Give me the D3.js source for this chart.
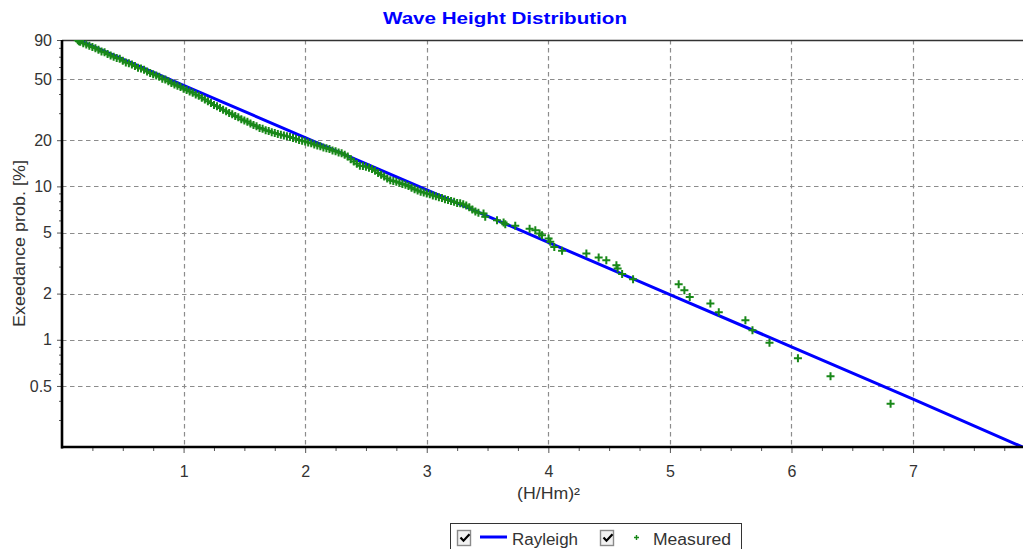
<!DOCTYPE html>
<html>
<head>
<meta charset="utf-8">
<script src="https://cdn.jsdelivr.net/npm/d3@7"></script>
<style>
  body { margin: 0; background: #fff; }
  svg { display: block; }
  text { font-family: "Liberation Sans", Arial, sans-serif; }
</style>
</head>
<body>
<svg id="chart" width="1023" height="549"></svg>
<script>
// Theoretical Rayleigh exceedance curve, (H/Hm)^2 vs exceedance probability [%]
const rayleighX = [0.134, 1, 2, 3, 4, 5, 6, 7, 7.9];
const rayleighP = [90, 45.59, 20.79, 9.48, 4.32, 1.97, 0.90, 0.41, 0.20];

// Measured wave record, sorted by (H/Hm)^2
const measuredX = [
  0.13, 0.14, 0.15, 0.175, 0.2, 0.225, 0.25, 0.275, 0.3, 0.325, 0.35, 0.375,
  0.4, 0.425, 0.45, 0.475, 0.5, 0.525, 0.55, 0.575, 0.6, 0.625, 0.65, 0.675,
  0.7, 0.725, 0.75, 0.775, 0.8, 0.825, 0.85, 0.875, 0.9, 0.925, 0.95, 0.975,
  1.0, 1.025, 1.05, 1.075, 1.1, 1.125, 1.15, 1.175, 1.2, 1.225, 1.25, 1.275,
  1.3, 1.325, 1.35, 1.375, 1.4, 1.425, 1.45, 1.475, 1.5, 1.525, 1.55, 1.575,
  1.6, 1.625, 1.65, 1.675, 1.7, 1.725, 1.75, 1.775, 1.8, 1.825, 1.85, 1.875,
  1.9, 1.925, 1.95, 1.975, 2.0, 2.025, 2.05, 2.075, 2.1, 2.125, 2.15, 2.175,
  2.2, 2.225, 2.25, 2.275, 2.3, 2.325, 2.35, 2.375, 2.4, 2.425, 2.45, 2.475,
  2.5, 2.525, 2.55, 2.575, 2.6, 2.625, 2.65, 2.675, 2.7, 2.725, 2.75, 2.775,
  2.8, 2.825, 2.85, 2.875, 2.9, 2.925, 2.95, 2.975, 3.0, 3.025, 3.05, 3.075,
  3.1, 3.125, 3.15, 3.175, 3.2, 3.225, 3.25, 3.275, 3.3, 3.325, 3.35, 3.375,
  3.4, 3.425,
  3.467, 3.481, 3.578, 3.632, 3.646, 3.728, 3.846, 3.893, 3.928, 3.948,
  4.002, 4.016, 4.049, 4.113, 4.313, 4.414, 4.477, 4.56, 4.57, 4.607, 4.697,
  5.072, 5.119, 5.163, 5.333, 5.402, 5.621, 5.679, 5.819, 6.053, 6.321, 6.815
];
const measuredP = [
  89.61, 88.25, 87.57, 85.86, 84.19, 82.55, 80.94, 79.37, 77.83, 75.75, 74.84, 72.83,
  71.41, 70.02, 68.67, 67.83, 66.02, 64.25, 63.47, 62.24, 61.03, 59.40, 58.68, 57.54,
  55.99, 54.91, 53.84, 52.79, 51.76, 50.38, 49.77, 48.44, 47.14, 46.23, 45.32, 44.44,
  43.25, 42.42, 41.59, 40.78, 39.69, 38.92, 37.87, 36.86, 35.87, 34.91, 33.97, 33.31,
  32.42, 31.56, 30.94, 30.11, 29.53, 28.74, 28.18, 27.42, 26.89, 26.36, 25.66, 25.16,
  24.67, 24.02, 23.72, 23.26, 22.98, 22.54, 22.26, 21.99, 21.73, 21.47, 21.21, 20.95,
  20.70, 20.45, 20.06, 19.81, 19.58, 19.34, 19.10, 18.74, 18.50, 18.28, 17.92, 17.72,
  17.50, 17.16, 16.95, 16.62, 16.42, 16.10, 15.67, 15.02, 14.51, 14.02, 13.65, 13.58,
  13.42, 13.25, 13.00, 12.65, 12.22, 11.90, 11.58, 11.27, 10.97, 10.84, 10.70, 10.57,
  10.37, 10.24, 10.04, 9.78, 9.58, 9.39, 9.22, 9.11, 8.99, 8.89, 8.72, 8.61,
  8.50, 8.40, 8.24, 8.14, 8.04, 7.94, 7.79, 7.76, 7.66, 7.51, 7.31, 7.06,
  6.87, 6.74,
  6.66, 6.33, 6.02, 5.82, 5.67, 5.53, 5.29, 5.18, 4.93, 4.81,
  4.58, 4.35, 4.03, 3.80, 3.65, 3.44, 3.30, 3.06, 2.92, 2.68, 2.48,
  2.30, 2.105, 1.903, 1.723, 1.512, 1.341, 1.154, 0.956, 0.758, 0.578, 0.383
];

const xTicks = [1, 2, 3, 4, 5, 6, 7];
const yTicks = [90, 50, 20, 10, 5, 2, 1, 0.5];
const yMinorTicks = [0.3, 0.4, 0.6, 0.7, 0.8, 0.9, 3, 4, 6, 7, 8, 9, 30, 40, 60, 70, 80];

const labelColor = "#333";
const gridColor = "#8c8c8c";
const lineColor = "#0000ff";
const markColor = "#188818";

const plot = { left: 62, right: 1022.5, top: 40, bottom: 447 };

const x = d3.scaleLinear().domain([0, 7.9]).range([plot.left, plot.right]);
const y = d3.scaleLog().domain([0.2, 90]).range([plot.bottom, plot.top]);

const svg = d3.select("#chart");

svg.append("defs").append("clipPath").attr("id", "plotClip")
  .append("rect")
  .attr("x", plot.left).attr("y", plot.top)
  .attr("width", 1023 - plot.left).attr("height", plot.bottom - plot.top);

// Grid
const grid = svg.append("g")
  .attr("stroke", gridColor).attr("stroke-width", 1.2)
  .attr("stroke-dasharray", "4.5,3.5").attr("fill", "none");
grid.selectAll("line.v").data(xTicks).join("line").attr("class", "v")
  .attr("x1", d => Math.round(x(d)) + 0.5).attr("x2", d => Math.round(x(d)) + 0.5)
  .attr("y1", plot.top).attr("y2", plot.bottom);
grid.selectAll("line.h").data(yTicks.filter(d => d < 90)).join("line").attr("class", "h")
  .attr("y1", d => Math.round(y(d)) + 0.5).attr("y2", d => Math.round(y(d)) + 0.5)
  .attr("x1", plot.left).attr("x2", 1023);

// Top frame line
svg.append("line")
  .attr("x1", plot.left).attr("x2", 1023)
  .attr("y1", plot.top + 0.5).attr("y2", plot.top + 0.5)
  .attr("stroke", "#333").attr("stroke-width", 1.3);

const plotArea = svg.append("g").attr("clip-path", "url(#plotClip)");

// Rayleigh curve
const rayleigh = rayleighX.map((d, i) => [d, rayleighP[i]]);
plotArea.append("path")
  .datum(rayleigh)
  .attr("fill", "none")
  .attr("stroke", lineColor)
  .attr("stroke-width", 3)
  .attr("d", d3.line().x(d => x(d[0])).y(d => y(d[1])));

// Measured points as crosses
const measured = measuredX.map((d, i) => [d, measuredP[i]]);
const arm = 4;
plotArea.append("g")
  .attr("stroke", markColor).attr("stroke-width", 2).attr("fill", "none")
  .selectAll("path").data(measured).join("path")
  .attr("d", d => {
    const cx = x(d[0]), cy = y(d[1]);
    return `M${cx - arm},${cy}h${2 * arm}M${cx},${cy - arm}v${2 * arm}`;
  });

// X axis ticks and labels
const xAxis = svg.append("g").attr("transform", `translate(0,${plot.bottom})`)
  .call(d3.axisBottom(x).tickValues(xTicks).tickSize(6).tickSizeOuter(0).tickPadding(13)
    .tickFormat(d3.format("d")));
const xMinor = svg.append("g").attr("transform", `translate(0,${plot.bottom})`)
  .call(d3.axisBottom(x)
    .tickValues(d3.range(0.25, 7.9, 0.25).filter(d => d % 1 !== 0))
    .tickSize(4).tickSizeOuter(0).tickFormat(""));

// Y axis ticks and labels
const yAxis = svg.append("g").attr("transform", `translate(${plot.left},0)`)
  .call(d3.axisLeft(y).tickValues(yTicks).tickSize(5).tickSizeOuter(0).tickPadding(5)
    .tickFormat(d => String(d)));
const yMinor = svg.append("g").attr("transform", `translate(${plot.left},0)`)
  .call(d3.axisLeft(y).tickValues(yMinorTicks).tickSize(3).tickSizeOuter(0).tickFormat(""));

[xAxis, xMinor, yAxis, yMinor].forEach(g => {
  g.select(".domain").remove();
  g.selectAll(".tick line").attr("stroke", "#555").attr("stroke-width", 1);
  g.selectAll(".tick text")
    .attr("fill", labelColor)
    .style("font-family", '"Liberation Sans", Arial, sans-serif')
    .style("font-size", "16px");
});

// Thick axis lines
svg.append("line")
  .attr("x1", plot.left).attr("x2", plot.left)
  .attr("y1", plot.top).attr("y2", plot.bottom + 1.5)
  .attr("stroke", "#000").attr("stroke-width", 2.6);
svg.append("line")
  .attr("x1", plot.left - 1).attr("x2", 1023)
  .attr("y1", plot.bottom).attr("y2", plot.bottom)
  .attr("stroke", "#000").attr("stroke-width", 2.6);

// Title
svg.append("text")
  .attr("x", 383).attr("y", 24)
  .attr("fill", lineColor)
  .attr("font-weight", "bold")
  .attr("font-size", 16)
  .attr("textLength", 244).attr("lengthAdjust", "spacingAndGlyphs")
  .text("Wave Height Distribution");

// Axis titles
svg.append("text")
  .attr("x", 517).attr("y", 499)
  .attr("fill", labelColor).attr("font-size", 16)
  .attr("textLength", 63).attr("lengthAdjust", "spacingAndGlyphs")
  .text("(H/Hm)²");

svg.append("text")
  .attr("transform", "translate(25,243.5) rotate(-90)")
  .attr("text-anchor", "middle")
  .attr("fill", labelColor).attr("font-size", 16)
  .attr("textLength", 167).attr("lengthAdjust", "spacingAndGlyphs")
  .text("Exeedance prob. [%]");

// Legend
const legend = svg.append("g");
legend.append("rect")
  .attr("x", 450.5).attr("y", 523.5).attr("width", 291).attr("height", 30)
  .attr("fill", "#fff").attr("stroke", "#333").attr("stroke-width", 1);

function checkbox(x0) {
  legend.append("rect")
    .attr("x", x0 + 0.5).attr("y", 530.5).attr("width", 13).attr("height", 15)
    .attr("fill", "#f2f2f2").attr("stroke", "#8a8a8a").attr("stroke-width", 1.4);
  legend.append("path")
    .attr("d", `M${x0 + 3.5},${537.5} l3,3.2 l6,-6.5`)
    .attr("fill", "none").attr("stroke", "#000").attr("stroke-width", 2.2);
}
checkbox(457);
legend.append("line")
  .attr("x1", 480).attr("x2", 507).attr("y1", 537).attr("y2", 537)
  .attr("stroke", lineColor).attr("stroke-width", 3);
legend.append("text")
  .attr("x", 512).attr("y", 545)
  .attr("fill", labelColor).attr("font-size", 16)
  .attr("textLength", 66).attr("lengthAdjust", "spacingAndGlyphs")
  .text("Rayleigh");

checkbox(600);
legend.append("path")
  .attr("d", "M634,537.5h5M636.5,535v5")
  .attr("stroke", markColor).attr("stroke-width", 1.4);
legend.append("text")
  .attr("x", 653).attr("y", 545)
  .attr("fill", labelColor).attr("font-size", 16)
  .attr("textLength", 78).attr("lengthAdjust", "spacingAndGlyphs")
  .text("Measured");
</script>
</body>
</html>
